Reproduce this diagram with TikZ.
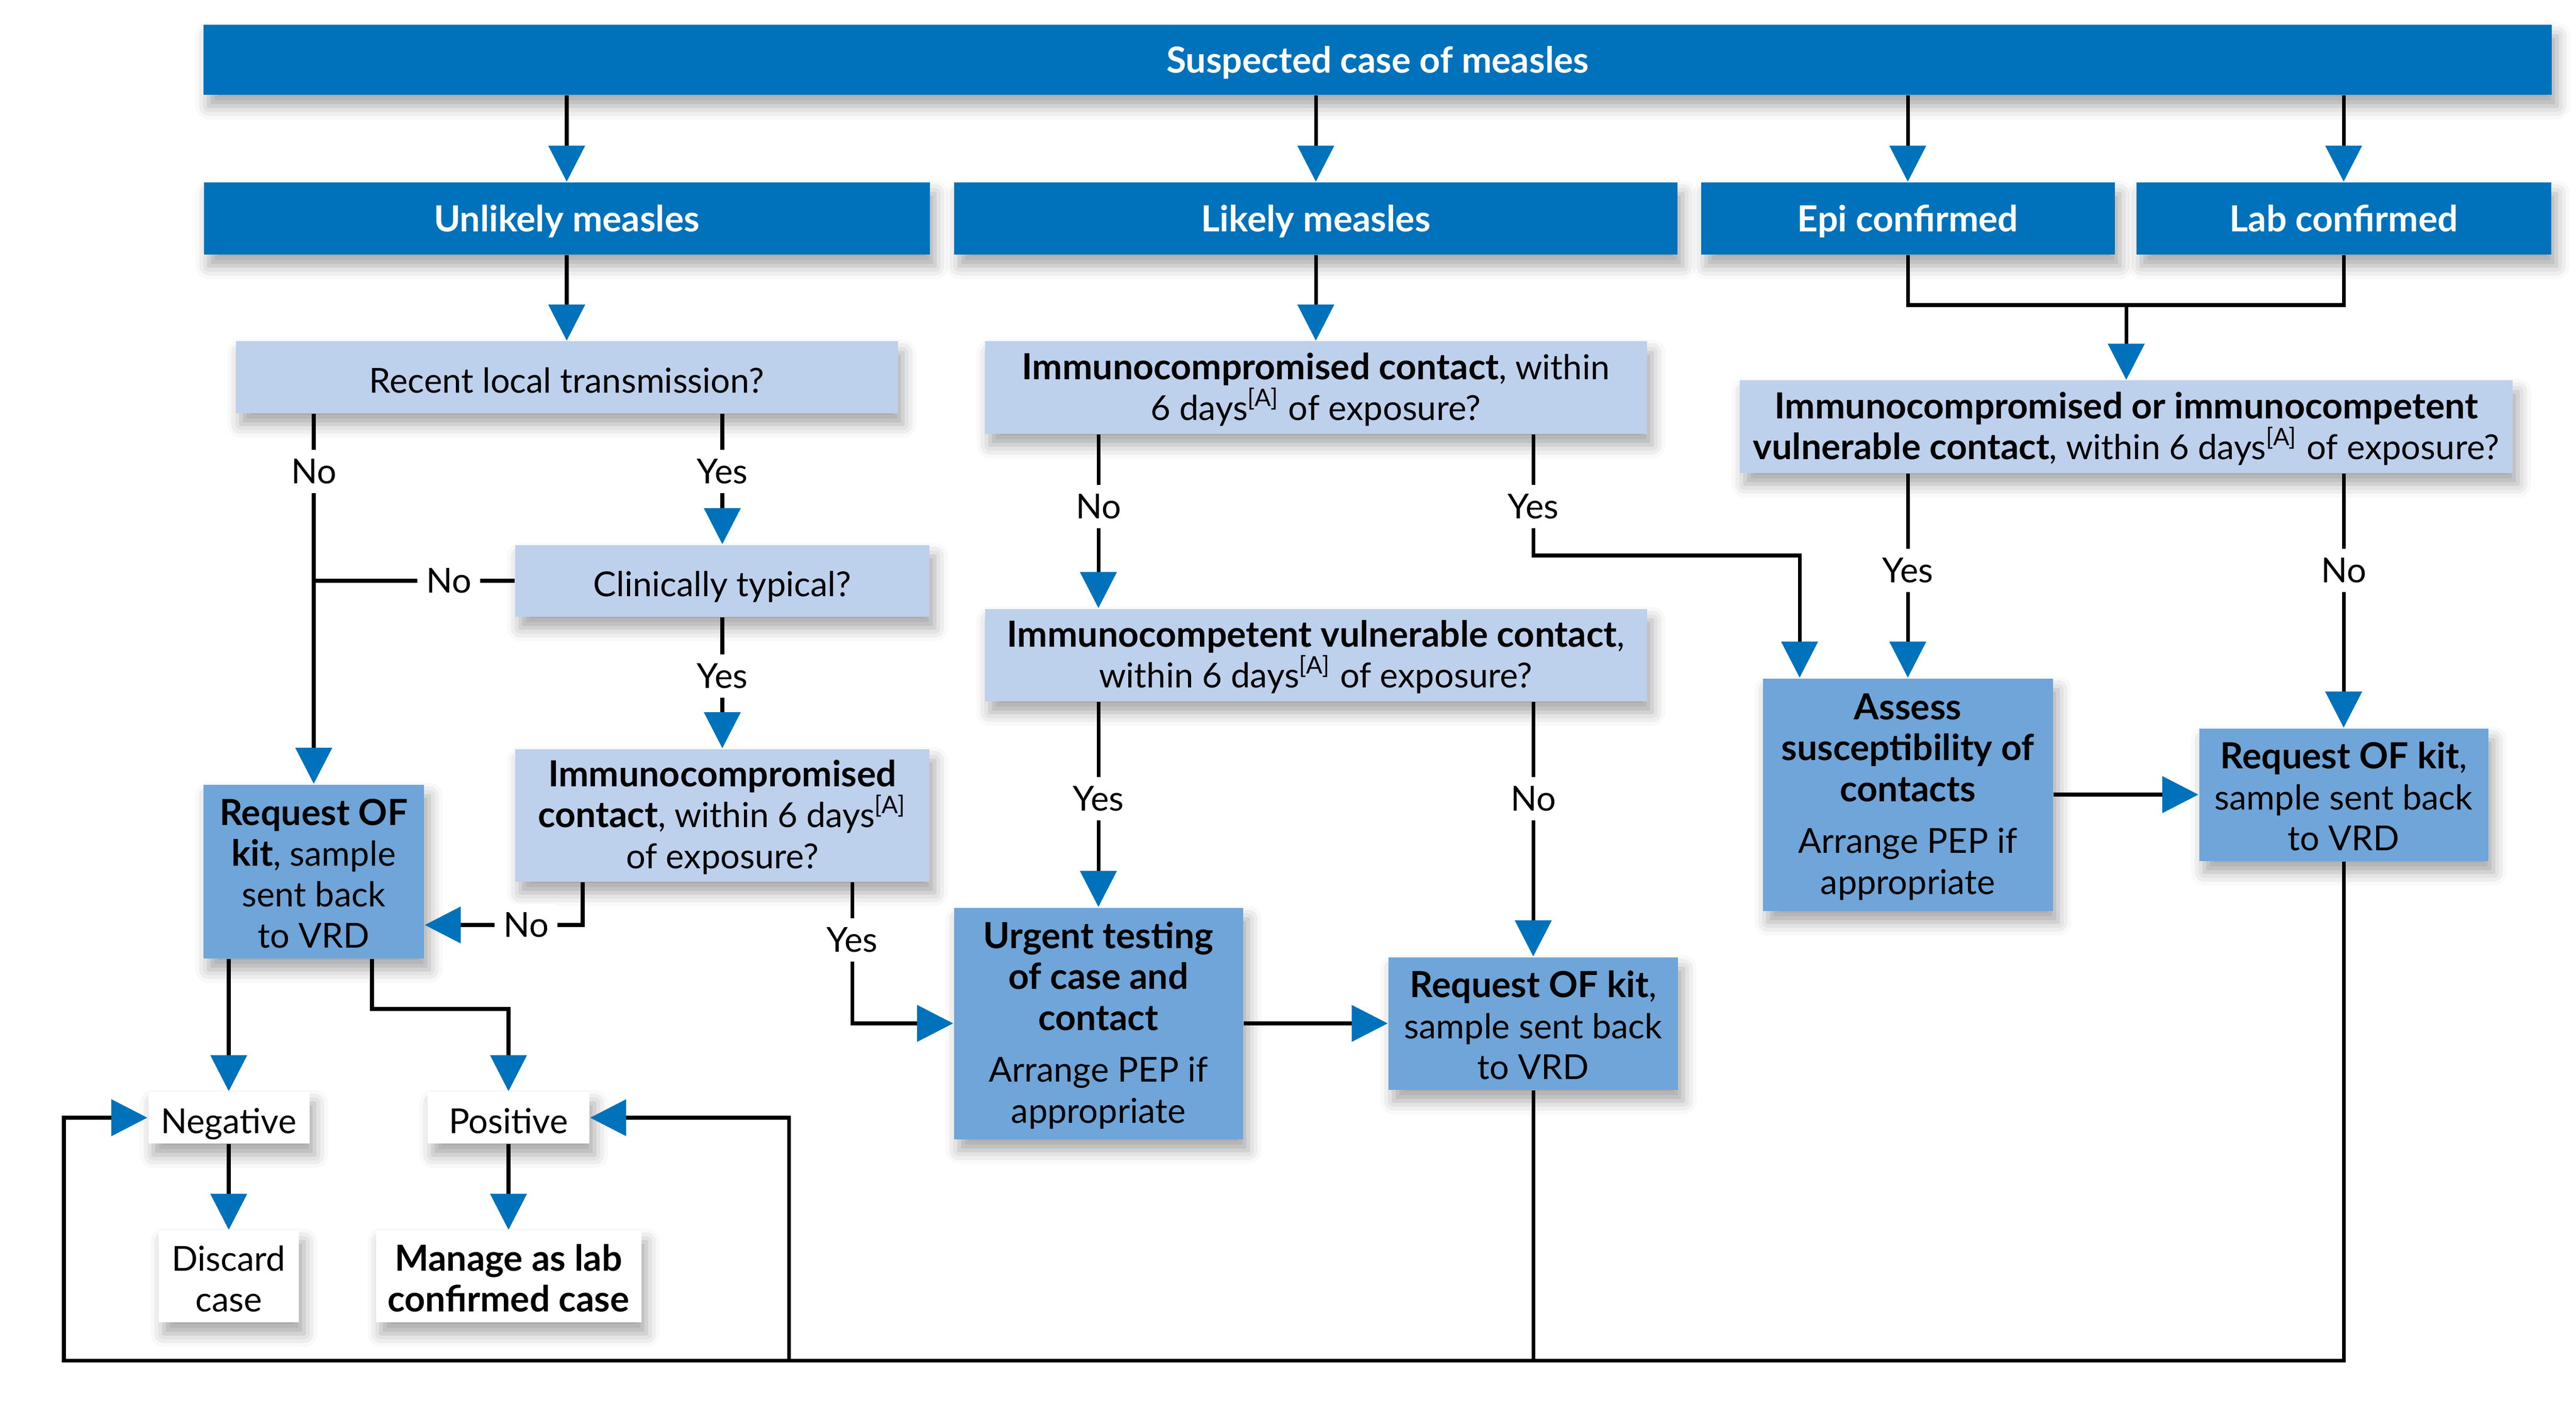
\documentclass[tikz,border=0pt]{standalone}
\usepackage{fontspec}
\setmainfont{Lato}[BoldFeatures={Scale=1.045}]
\usetikzlibrary{arrows.meta,shadows.blur}

\definecolor{darkblue}{RGB}{0,114,187}
\definecolor{paleblue}{RGB}{189,208,236}
\definecolor{midblue}{RGB}{111,165,216}
\newcommand{\boxfont}{\fontsize{9.5}{11.3}\selectfont}
\newcommand{\lift}{\rule{0pt}{2.95mm}}

\begin{document}
\begin{tikzpicture}[x=1mm, y=-1mm, font=\boxfont,
    every node/.style={inner sep=0pt, align=center},
    shade/.style={blur shadow={shadow xshift=0.5mm, shadow yshift=-1.1mm, shadow blur radius=1.3mm, shadow opacity=35}},
    header/.style={shade, fill=darkblue, text=white, font=\boxfont\bfseries, minimum height=7mm, text depth=0pt},
    question/.style={shade, fill=paleblue},
    action/.style={shade, fill=midblue},
    outcome/.style={shade, fill=white},
    oneline/.style={text height=3.05mm, text depth=0pt},
    lbl/.style={fill=white, inner sep=0.8mm},
    link/.style={line width=1pt},
    arr/.style={link, -{Triangle[length=3.5mm, width=3.5mm, color=darkblue]}}]
        \useasboundingbox (0,0) rectangle (250,137.2);

        % top rows
        \node[header, minimum width=227.9mm, minimum height=6.8mm] (suspect) at (133.7,5.8) {Suspected case of measles};
        \node[header, minimum width=70.45mm] (unlikely) at (55,21.2) {Unlikely measles};
        \node[header, minimum width=70.2mm] (likely) at (127.7,21.2) {Likely measles};
        \node[header, minimum width=40.15mm] (epi) at (185.15,21.2) {Epi confirmed};
        \node[header, minimum width=40.25mm] (lab) at (227.45,21.2) {Lab confirmed};

        % questions
        \node[question, oneline, minimum width=64.25mm, minimum height=6.95mm] (recent) at (55,36.6) {Recent local transmission?};
        \node[question, minimum width=64.25mm, minimum height=8.95mm] (imcompC) at (127.7,37.6) {\lift\textbf{Immunocompromised contact}, within\\6 days\textsuperscript{[A]} of exposure?};
        \node[question, minimum width=75mm, minimum height=8.95mm] (merge) at (206.35,41.4) {\lift\textbf{Immunocompromised or immunocompetent}\\\textbf{vulnerable contact}, within 6 days\textsuperscript{[A]} of exposure?};
        \node[question, oneline, minimum width=40.2mm, minimum height=6.95mm] (clin) at (70.1,56.35) {Clinically typical?};
        \node[question, minimum width=40.2mm, minimum height=12.85mm] (imcompL) at (70.1,79.1) {\lift\textbf{Immunocompromised}\\\textbf{contact}, within 6 days\textsuperscript{[A]}\\of exposure?};
        \node[question, minimum width=64.25mm, minimum height=8.95mm] (imcompet) at (127.7,63.55) {\lift\textbf{Immunocompetent vulnerable contact},\\within 6 days\textsuperscript{[A]} of exposure?};

        % actions
        \node[action, minimum width=28.15mm, minimum height=22.55mm] (assess) at (185.15,77.1) {\lift\textbf{Assess}\\\textbf{susceptibility of}\\\textbf{contacts}\\[3pt]Arrange PEP if\\appropriate};
        \node[action, minimum width=28.05mm, minimum height=12.85mm] (kitR) at (227.45,77.1) {\lift\textbf{Request OF kit},\\sample sent back\\to VRD};
        \node[action, minimum width=21.4mm, minimum height=16.85mm] (kitL) at (30.45,84.55) {\lift\textbf{Request OF}\\\textbf{kit}, sample\\sent back\\to VRD};
        \node[action, minimum width=28.05mm, minimum height=22.45mm] (urgent) at (106.6,99.3) {\lift\textbf{Urgent testing}\\\textbf{of case and}\\\textbf{contact}\\[3pt]Arrange PEP if\\appropriate};
        \node[action, minimum width=28.1mm, minimum height=12.85mm] (kitM) at (148.8,99.3) {\lift\textbf{Request OF kit},\\sample sent back\\to VRD};

        % outcomes
        \node[outcome, oneline, minimum width=15.65mm, minimum height=5mm] (neg) at (22.2,108.45) {Negative};
        \node[outcome, oneline, minimum width=15.7mm, minimum height=5mm] (pos) at (49.35,108.45) {Positive};
        \node[outcome, minimum width=13.6mm, minimum height=8.9mm] (discard) at (22.2,123.85) {\lift Discard\\case};
        \node[outcome, minimum width=25.75mm, minimum height=8.9mm] (manage) at (49.35,123.85) {\lift\textbf{Manage as lab}\\\textbf{confirmed case}};

        % yes / no labels
        \node[lbl] (nRecent) at (30.45,45.75) {No};
        \node[lbl] (yRecent) at (70.1,45.75) {Yes};
        \node[lbl] (nClin) at (43.55,56.35) {No};
        \node[lbl] (yClin) at (70.1,65.6) {Yes};
        \node[lbl] (nImL) at (51.05,89.75) {No};
        \node[lbl] (yImL) at (82.7,91.2) {Yes};
        \node[lbl] (nImC) at (106.6,49.15) {No};
        \node[lbl] (yImC) at (148.8,49.15) {Yes};
        \node[lbl] (yImV) at (106.6,77.5) {Yes};
        \node[lbl] (nImV) at (148.8,77.5) {No};
        \node[lbl] (yMerge) at (185.15,55.35) {Yes};
        \node[lbl] (nMerge) at (227.45,55.35) {No};

        \coordinate (join) at (206.35,29.6);
        \coordinate (noBend) at (56.55,89.75);
        \coordinate (posBend) at (36.1,97.9);
        \coordinate (yesBend) at (174.65,53.9);
        \coordinate (loopL) at (6.2,132);
        \coordinate (loopP) at (76.55,132);

        \draw[arr] (suspect.south -| unlikely) -- (unlikely);
        \draw[arr] (suspect.south -| likely) -- (likely);
        \draw[arr] (suspect.south -| epi) -- (epi);
        \draw[arr] (suspect.south -| lab) -- (lab);
        \draw[arr] (unlikely) -- (recent);
        \draw[arr] (likely) -- (imcompC);
        \draw[link] (epi) |- (join) -| (lab);
        \draw[arr] (join) -- (merge);

        % unlikely branch
        \draw[link] (recent.south -| nRecent) -- (nRecent);
        \draw[arr] (nRecent) -- (kitL);
        \draw[link] (recent.south -| yRecent) -- (yRecent);
        \draw[arr] (yRecent) -- (clin);
        \draw[link] (clin) -- (nClin);
        \draw[link] (nClin) -- (nClin -| nRecent);
        \draw[link] (clin) -- (yClin);
        \draw[arr] (yClin) -- (imcompL);
        \draw[link] (imcompL.south -| noBend) -- (noBend) -- (nImL);
        \draw[arr] (nImL) -- (nImL -| kitL.east);
        \draw[link] (imcompL.south -| yImL) -- (yImL);
        \draw[arr] (yImL) |- (urgent);
        \draw[arr] (kitL.south -| neg) -- (neg);
        \draw[arr] (kitL.south -| posBend) -- (posBend) -| (pos);
        \draw[arr] (neg) -- (discard);
        \draw[arr] (pos) -- (manage);

        % likely branch
        \draw[link] (imcompC.south -| nImC) -- (nImC);
        \draw[arr] (nImC) -- (nImC |- imcompet.north);
        \draw[link] (imcompC.south -| yImC) -- (yImC);
        \draw[arr] (yImC) |- (yesBend) -- (yesBend |- assess.north);
        \draw[link] (imcompet.south -| yImV) -- (yImV);
        \draw[arr] (yImV) -- (urgent);
        \draw[link] (imcompet.south -| nImV) -- (nImV);
        \draw[arr] (nImV) -- (kitM);
        \draw[arr] (urgent) -- (kitM);

        % confirmed branch
        \draw[link] (merge.south -| yMerge) -- (yMerge);
        \draw[arr] (yMerge) -- (assess);
        \draw[link] (merge.south -| nMerge) -- (nMerge);
        \draw[arr] (nMerge) -- (kitR);
        \draw[arr] (assess) -- (kitR);

        % results loop
        \draw[arr] (kitR) |- (loopL) |- (neg);
        \draw[link] (kitM) -- (kitM |- loopL);
        \draw[arr] (loopP) |- (pos);
    \end{tikzpicture}
\end{document}
